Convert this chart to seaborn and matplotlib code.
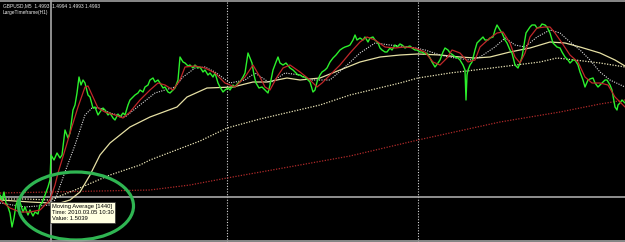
import matplotlib
matplotlib.use("Agg")
import matplotlib.pyplot as plt
from matplotlib.patches import Ellipse
from matplotlib.lines import Line2D
import seaborn as sns
import pandas as pd

# ---------------- data (bar index, price) ----------------
price_x = [0, 2, 4, 6, 8, 10, 12, 14, 16, 18, 20, 23, 25, 28, 30, 33, 35, 38, 40, 42, 45, 48, 50,
           51, 54, 57, 60, 62, 65, 68, 70, 73, 75, 77, 79, 81, 83, 85, 88, 90, 93, 95, 98, 100,
           103, 105, 108, 110, 113, 115, 118, 120, 123, 125, 128, 130, 133, 135, 138, 140, 143,
           145, 148, 150, 153, 155, 158, 160, 163, 165, 168, 170, 173, 175, 178, 180, 183, 185,
           188, 190, 193, 195, 198, 200, 203, 205, 208, 210, 213, 215, 218, 220, 223, 225, 228,
           230, 233, 235, 238, 240, 243, 245, 247, 248, 250, 252, 254, 256, 259, 262, 265, 268,
           270, 273, 276, 278, 280, 283, 286, 290, 293, 295, 298, 300, 303, 305, 308, 310, 313,
           315, 317, 320, 322, 325, 327, 330, 333, 336, 340, 343, 345, 348, 350, 353, 355, 357,
           360, 363, 365, 368, 370, 373, 375, 378, 380, 382, 385, 387, 390, 392, 395, 397, 400,
           402, 405, 407, 410, 412, 415, 417, 420, 422, 425, 427, 430, 432, 435, 438, 440, 443,
           445, 448, 450, 453, 455, 458, 460, 463, 465, 466, 467, 468, 470, 472, 475, 477, 480,
           483, 485, 488, 490, 493, 495, 497, 500, 502, 505, 507, 510, 512, 515, 518, 520, 522,
           524, 526, 528, 530, 532, 535, 537, 540, 542, 545, 547, 550, 553, 555, 557, 560, 562,
           565, 568, 570, 573, 575, 578, 580, 583, 585, 588, 590, 593, 595, 598, 600, 602, 605,
           607, 610, 612, 615, 617, 618, 620, 622, 625]
price = [1.5041, 1.5036, 1.5044, 1.5033, 1.5029, 1.5023, 1.5009, 1.5018, 1.5031, 1.5036, 1.5034,
         1.5024, 1.5029, 1.5021, 1.5026, 1.5020, 1.5024, 1.5022, 1.5031, 1.5033, 1.5041, 1.5049,
         1.5056, 1.5081, 1.5076, 1.5083, 1.5078, 1.5081, 1.5106, 1.5098, 1.5103, 1.5126, 1.5131,
         1.5143, 1.5159, 1.5151, 1.5156, 1.5153, 1.5141, 1.5139, 1.5128, 1.5129, 1.5121, 1.5124,
         1.5128, 1.5126, 1.5121, 1.5123, 1.5118, 1.5116, 1.5122, 1.5119, 1.5123, 1.5121, 1.5131,
         1.5136, 1.5139, 1.5141, 1.5143, 1.5146, 1.5144, 1.5149, 1.5151, 1.5156, 1.5158, 1.5154,
         1.5156, 1.5153, 1.5148, 1.5149, 1.5144, 1.5143, 1.5146, 1.5148, 1.5156, 1.5179, 1.5174,
         1.5173, 1.5170, 1.5171, 1.5168, 1.5171, 1.5168, 1.5169, 1.5164, 1.5166, 1.5161, 1.5163,
         1.5159, 1.5163, 1.5153, 1.5149, 1.5144, 1.5146, 1.5148, 1.5146, 1.5151, 1.5149, 1.5153,
         1.5154, 1.5159, 1.5163, 1.5176, 1.5183, 1.5178, 1.5173, 1.5161, 1.5153, 1.5148, 1.5149,
         1.5146, 1.5143, 1.5151, 1.5166, 1.5174, 1.5179, 1.5173, 1.5171, 1.5173, 1.5168, 1.5166,
         1.5164, 1.5161, 1.5161, 1.5159, 1.5159, 1.5156, 1.5154, 1.5144, 1.5146, 1.5154, 1.5161,
         1.5164, 1.5166, 1.5168, 1.5174, 1.5178, 1.5181, 1.5186, 1.5188, 1.5189, 1.5190, 1.5191,
         1.5196, 1.5201, 1.5196, 1.5198, 1.5196, 1.5199, 1.5194, 1.5198, 1.5199, 1.5196, 1.5193,
         1.5188, 1.5186, 1.5184, 1.5184, 1.5188, 1.5186, 1.5191, 1.5189, 1.5192, 1.5191, 1.5188,
         1.5189, 1.5190, 1.5188, 1.5186, 1.5186, 1.5184, 1.5184, 1.5182, 1.5183, 1.5178, 1.5174,
         1.5169, 1.5173, 1.5176, 1.5184, 1.5188, 1.5186, 1.5183, 1.5181, 1.5179, 1.5178, 1.5176,
         1.5171, 1.5166, 1.5136, 1.5161, 1.5166, 1.5171, 1.5174, 1.5186, 1.5193, 1.5196, 1.5199,
         1.5196, 1.5196, 1.5198, 1.5199, 1.5206, 1.5211, 1.5206, 1.5203, 1.5196, 1.5193, 1.5186,
         1.5183, 1.5171, 1.5168, 1.5173, 1.5179, 1.5191, 1.5203, 1.5206, 1.5209, 1.5211, 1.5211,
         1.5208, 1.5209, 1.5212, 1.5211, 1.5209, 1.5203, 1.5193, 1.5191, 1.5189, 1.5188, 1.5184,
         1.5179, 1.5176, 1.5173, 1.5176, 1.5176, 1.5171, 1.5164, 1.5156, 1.5149, 1.5156, 1.5157,
         1.5158, 1.5153, 1.5149, 1.5151, 1.5153, 1.5156, 1.5156, 1.5151, 1.5146, 1.5129, 1.5126,
         1.5131, 1.5133, 1.5136, 1.5133]

ma_fast_x = [0, 10, 20, 30, 40, 50, 55, 58, 65, 70, 78, 85, 88, 93, 98, 105, 115, 123, 130, 140,
             150, 158, 165, 173, 180, 185, 195, 205, 215, 225, 235, 245, 253, 260, 265, 270, 277,
             283, 290, 300, 310, 317, 322, 330, 340, 350, 360, 367, 375, 385, 395, 405, 415, 425,
             433, 440, 447, 452, 460, 468, 475, 480, 490, 497, 503, 510, 515, 520, 525, 530, 537,
             545, 550, 555, 562, 570, 578, 585, 592, 600, 608, 615, 625]
ma_fast = [1.5036, 1.5028, 1.5024, 1.5024, 1.5026, 1.5036, 1.5051, 1.5063, 1.5086, 1.5103, 1.5129,
           1.5149, 1.5150, 1.5139, 1.5128, 1.5124, 1.5121, 1.5118, 1.5124, 1.5136, 1.5146, 1.5153,
           1.5151, 1.5146, 1.5156, 1.5169, 1.5170, 1.5168, 1.5163, 1.5153, 1.5149, 1.5159, 1.5171,
           1.5159, 1.5149, 1.5146, 1.5159, 1.5168, 1.5171, 1.5164, 1.5156, 1.5149, 1.5153, 1.5161,
           1.5171, 1.5183, 1.5194, 1.5199, 1.5196, 1.5189, 1.5188, 1.5189, 1.5188, 1.5184, 1.5174,
           1.5171, 1.5178, 1.5186, 1.5183, 1.5174, 1.5176, 1.5189, 1.5198, 1.5203, 1.5204, 1.5193,
           1.5179, 1.5173, 1.5183, 1.5199, 1.5208, 1.5209, 1.5209, 1.5203, 1.5193, 1.5181, 1.5174,
           1.5159, 1.5153, 1.5153, 1.5151, 1.5139, 1.5129]

ma_mid_x = [0, 25, 50, 55, 65, 75, 85, 92, 100, 110, 125, 140, 155, 165, 175, 183, 195, 205, 215,
            230, 245, 255, 270, 285, 300, 310, 330, 345, 360, 375, 390, 410, 425, 440, 455, 470,
            480, 495, 505, 515, 525, 537, 550, 560, 570, 580, 590, 600, 610, 625]
ma_mid = [1.5033, 1.5029, 1.5031, 1.5036, 1.5064, 1.5091, 1.5121, 1.5128, 1.5128, 1.5123, 1.5119,
          1.5131, 1.5143, 1.5146, 1.5149, 1.5159, 1.5168, 1.5169, 1.5164, 1.5153, 1.5156, 1.5163,
          1.5153, 1.5163, 1.5161, 1.5156, 1.5156, 1.5169, 1.5183, 1.5193, 1.5191, 1.5189, 1.5186,
          1.5181, 1.5178, 1.5176, 1.5179, 1.5189, 1.5198, 1.5191, 1.5189, 1.5199, 1.5206, 1.5203,
          1.5194, 1.5186, 1.5176, 1.5164, 1.5156, 1.5149]

ma_slow_x = [0, 30, 50, 60, 70, 80, 90, 100, 110, 120, 130, 150, 177, 187, 207, 233, 253, 267,
             287, 300, 320, 340, 360, 380, 400, 418, 440, 460, 475, 490, 510, 530, 550, 565, 580,
             600, 615, 625]
ma_slow = [1.5036, 1.5034, 1.5033, 1.5033, 1.5036, 1.5044, 1.5061, 1.5081, 1.5093, 1.5101, 1.5109,
           1.5119, 1.5129, 1.5139, 1.5148, 1.5149, 1.5154, 1.5154, 1.5158, 1.5156, 1.5158, 1.5166,
           1.5174, 1.5179, 1.5181, 1.5182, 1.5181, 1.5179, 1.5178, 1.5179, 1.5184, 1.5188, 1.5194,
           1.5193, 1.5189, 1.5183, 1.5176, 1.5170]

ma_480_x = [0, 25, 50, 75, 110, 140, 150, 200, 227, 260, 290, 320, 350, 400, 418, 450, 500, 540,
            557, 575, 600, 625]
ma_480 = [1.5037, 1.5037, 1.5036, 1.5046, 1.5061, 1.5071, 1.5076, 1.5095, 1.5108, 1.5117, 1.5124,
          1.5131, 1.5141, 1.5153, 1.5158, 1.5163, 1.5169, 1.5174, 1.5178, 1.5176, 1.5173, 1.5169]

ma_1440_x = [0, 50, 100, 150, 190, 227, 300, 350, 418, 500, 560, 600, 625]
ma_1440 = [1.5043, 1.5044, 1.5045, 1.5046, 1.5051, 1.5058, 1.5071, 1.5080, 1.5096, 1.5114, 1.5124,
           1.5132, 1.5136]

separators = [227, 418]
cross_x = 51
cross_value = 1.5039

header = "GBPUSD,M5  1.4993  1.4994 1.4993 1.4993"
subheader = "LargeTimeframe(H1)"
tooltip = "Moving Average [1440]\nTime: 2010.03.05 10:30\nValue: 1.5039"

# ---------------- drawing ----------------
sns.set_style("dark", {"axes.facecolor": "black", "figure.facecolor": "black"})
plt.rcParams["font.family"] = ["Liberation Sans Narrow", "Liberation Sans", "DejaVu Sans"]

fig = plt.figure(figsize=(6.25, 2.42), dpi=100)
ax = fig.add_axes([0, 0, 1, 1])
ax.set_facecolor("black")

Y0, Y1 = 1.4994, 1.5236
ax.set_xlim(0, 625)
ax.set_ylim(Y0, Y1)

# period separators
for sx in separators:
    ax.axvline(sx, color="#d8d8d8", lw=0.8, ls=(0, (1, 1.5)), zorder=1)

# crosshair
ax.axvline(cross_x, color="#a8a8a8", lw=1.2, zorder=2)
ax.axhline(cross_value, color="#a8a8a8", lw=1.2, zorder=2)

def line(xs, ys, color, lw, ls="-", z=3):
    df = pd.DataFrame({"x": xs, "y": ys})
    sns.lineplot(data=df, x="x", y="y", ax=ax, color=color, lw=lw, ls=ls,
                 estimator=None, sort=False, zorder=z)

line(ma_1440_x, ma_1440, "#b02a2a", 0.9, (0, (1, 1.2)))
line(ma_480_x, ma_480, "#ece6b8", 0.9, (0, (1, 1.2)))
line(ma_slow_x, ma_slow, "#e6e0a4", 0.9)
line(ma_mid_x, ma_mid, "#dcdcdc", 0.8, (0, (1, 1.2)))
line(price_x, price, "#2cf02c", 1.0, "-", 4)
line(ma_fast_x, ma_fast, "#c0282a", 0.9, "-", 5)

ax.set_xlabel("")
ax.set_ylabel("")
ax.set_xticks([])
ax.set_yticks([])
for s in ax.spines.values():
    s.set_visible(False)

# highlight ellipse
ax.add_patch(Ellipse((76, 1.5030), 115, 0.0068, fill=False, edgecolor="#2fb552",
                     lw=2.3, zorder=6))

# tooltip
ax.text(51.8, cross_value - 0.00065, tooltip, fontsize=4.2, color="black",
        va="top", ha="left", linespacing=1.35, zorder=8,
        bbox=dict(boxstyle="square,pad=0.3", facecolor="#ffffe1",
                  edgecolor="#333333", lw=0.5))

# header texts
fig.text(3 / 625, 1 - 6 / 242, header, fontsize=3.5, color="#e8e8e8", va="center", ha="left")
fig.text(3 / 625, 1 - 12.5 / 242, subheader, fontsize=3.5, color="#e8e8e8", va="center", ha="left")

# window frame lines
fig.add_artist(Line2D([0, 1], [1 - 0.8 / 242, 1 - 0.8 / 242], color="#a0a0a0", lw=1.2))
fig.add_artist(Line2D([0, 1], [1.2 / 242, 1.2 / 242], color="#a0a0a0", lw=1.2))

fig.savefig("out.png", dpi=100, facecolor="black")
